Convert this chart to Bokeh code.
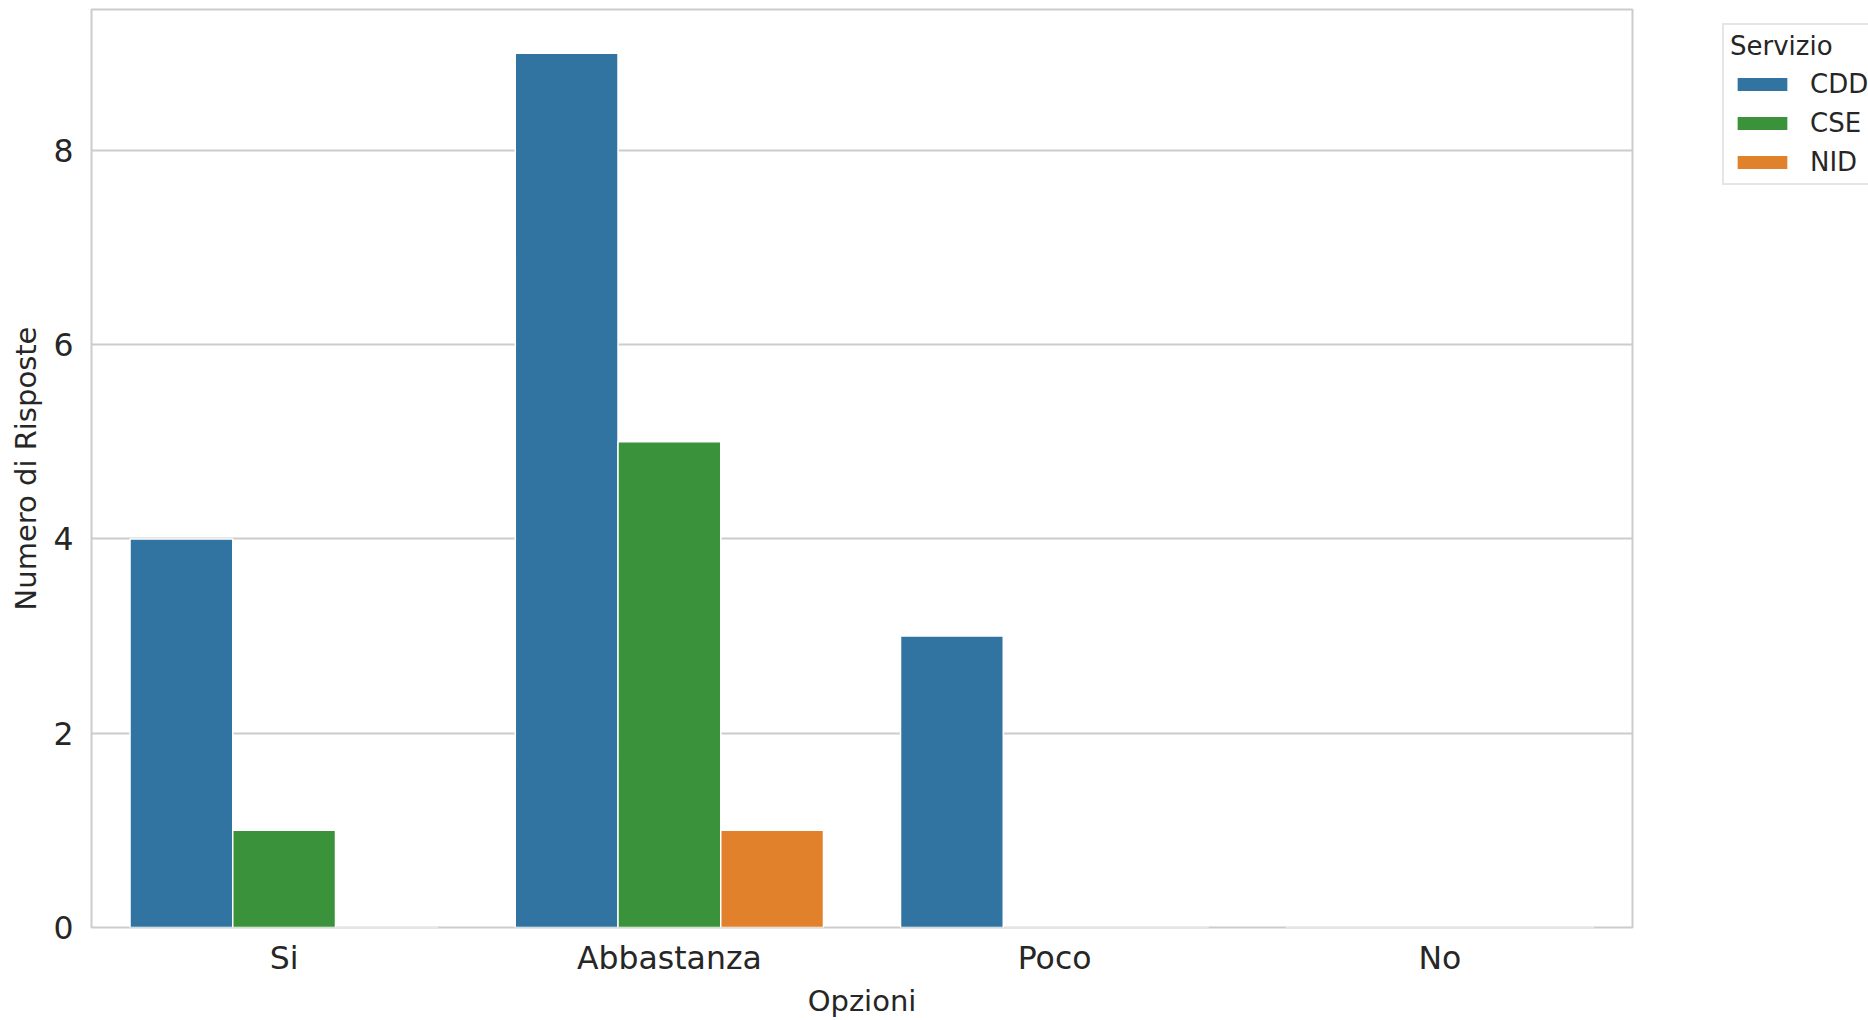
from bokeh.plotting import figure
from bokeh.layouts import row
from bokeh.models import ColumnDataSource, FactorRange, Legend, LegendItem, Range1d, FixedTicker
from bokeh.transform import dodge
from bokeh.embed import file_html
from bokeh.resources import INLINE

opzioni = ["Si", "Abbastanza", "Poco", "No"]
servizi = ["CDD", "CSE", "NID"]
cdd = [4, 9, 3, 0]
cse = [1, 5, 0, 0]
nid = [0, 1, 0, 0]
colors = ["#3274a1", "#3a923a", "#e1812c"]
y_ticks = [0, 2, 4, 6, 8]

src = ColumnDataSource(dict(x=opzioni, CDD=cdd, CSE=cse, NID=nid))

FONT = "DejaVu Sans"
TXT = "#262626"
GRID = "#cccccc"

p = figure(x_range=FactorRange(*opzioni, range_padding=0), y_range=Range1d(0, 9.45),
           width=1634, height=1020, output_backend="svg", toolbar_location=None,
           min_border_left=91, min_border_top=9, min_border_bottom=92, min_border_right=2)
p.outline_line_color = GRID
p.outline_line_width = 2
p.background_fill_color = "white"
p.border_fill_color = "white"

w = 0.8 / 3
offsets = [-w, 0, w]
for s, off, c in zip(servizi, offsets, colors):
    p.vbar(x=dodge("x", off, range=p.x_range), top=s, width=w, source=src,
           fill_color=c, line_color="white", line_width=1.5)

p.xgrid.grid_line_color = None
p.ygrid.grid_line_color = GRID
p.ygrid.grid_line_width = 2
p.yaxis.ticker = FixedTicker(ticks=y_ticks)

for ax in (p.xaxis[0], p.yaxis[0]):
    ax.axis_line_color = None
    ax.major_tick_line_color = None
    ax.minor_tick_line_color = None
    ax.major_tick_out = 0
    ax.major_tick_in = 0
    ax.major_label_text_font = FONT
    ax.major_label_text_font_size = "31.5px"
    ax.major_label_text_color = TXT
    ax.axis_label_text_font = FONT
    ax.axis_label_text_font_size = "29px"
    ax.axis_label_text_color = TXT
    ax.axis_label_text_font_style = "normal"

p.xaxis.axis_label = "Opzioni"
p.yaxis.axis_label = "Numero di Risposte"
p.xaxis.major_label_standoff = 12
p.xaxis.axis_label_standoff = 5
p.yaxis.major_label_standoff = 18
p.yaxis.axis_label_standoff = 7

# legend panel to the right of the plot (swatch renderers sit outside the visible range)
pl = figure(width=234, height=1020, x_range=Range1d(0, 1), y_range=Range1d(0, 1),
            x_axis_type=None, y_axis_type=None, output_backend="svg", toolbar_location=None,
            min_border=0)
pl.outline_line_color = None
pl.xgrid.visible = False
pl.ygrid.visible = False
leg_renderers = []
for c in colors:
    leg_renderers.append(pl.vbar(x=[-5], top=[0], width=0.1, fill_color=c,
                                 line_color="white", line_width=1.5))

legend = Legend(items=[LegendItem(label=s, renderers=[r]) for s, r in zip(servizi, leg_renderers)],
                location=(88, 742))
legend.title = "Servizio"
legend.title_text_font = FONT
legend.title_text_font_size = "26px"
legend.title_text_color = TXT
legend.title_text_font_style = "normal"
legend.title_standoff = 8
legend.label_text_font = FONT
legend.label_text_font_size = "26px"
legend.label_text_color = TXT
legend.glyph_width = 64
legend.glyph_height = 18
legend.label_height = 30
legend.spacing = 9
legend.label_standoff = 16
legend.padding = 6
legend.margin = 0
legend.border_line_color = GRID
legend.border_line_width = 2
legend.background_fill_alpha = 1
pl.add_layout(legend, "center")

layout = row(p, pl, spacing=0)
open("out.html", "w").write(file_html(layout, INLINE))
